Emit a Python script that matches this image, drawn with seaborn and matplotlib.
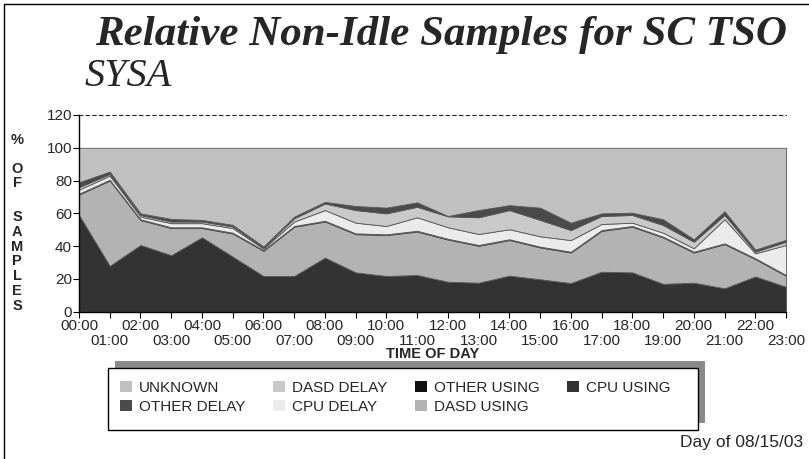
import numpy as np
import matplotlib
matplotlib.use("Agg")
import matplotlib.pyplot as plt
from matplotlib import font_manager
from matplotlib.patches import Rectangle, Patch
from matplotlib.lines import Line2D
import seaborn as sns

# hours of the day
hours = list(range(24))
hour_labels = [f"{h:02d}:00" for h in hours]

# cumulative levels (percent of samples)
cpu_using = [59, 28, 40.7, 34.5, 45.4, 33.6, 21.8, 21.8, 33, 24, 21.8, 22.4,
             18.3, 17.7, 22, 19.8, 17.5, 24.4, 24, 17, 17.7, 14.3, 21.5, 15.2]
dasd_top = [72, 80.5, 56.4, 51.5, 51.5, 48.2, 37.6, 52.3, 55.5, 47.8, 47.2, 49.4,
            44.5, 40.7, 44.2, 39.7, 36.6, 49.8, 52.3, 45.8, 36.6, 41.7, 32.6, 22.4]
cpu_delay_top = [74.5, 83, 58, 54, 54, 51, 38.5, 55, 62, 54.3, 52.3, 57.6,
                 51.5, 47.4, 50.3, 46, 43.7, 53.5, 54.3, 48.2, 38.7, 56.4, 35.6, 40.7]
dasd_delay_top = [76, 84, 59, 55, 55, 52, 39, 57, 66, 62, 60, 64,
                  58.2, 57.6, 62, 56, 49.8, 58.4, 59, 52.9, 42.7, 59, 36.6, 42.7]
total_top = [79, 85.5, 60, 56.6, 56, 53, 39.8, 58, 67, 64.5, 63.5, 66.7,
             58.4, 62, 65, 63.5, 54.3, 60, 60.4, 56.4, 44.2, 61.3, 37.9, 43.9]
other_using = [0.5] * 24

# layer thicknesses for the stack
cpu = np.array(cpu_using)
dasd = np.array(dasd_top) - cpu - np.array(other_using)
oth_use = np.array(other_using)
cpu_del = np.array(cpu_delay_top) - np.array(dasd_top)
dasd_del = np.array(dasd_delay_top) - np.array(cpu_delay_top)
oth_del = np.array(total_top) - np.array(dasd_delay_top)
unknown = 100 - np.array(total_top)

series = ["CPU USING", "DASD USING", "OTHER USING", "CPU DELAY",
          "DASD DELAY", "OTHER DELAY", "UNKNOWN"]
colors = {"CPU USING": "#333333", "DASD USING": "#b3b3b3", "OTHER USING": "#111111",
          "CPU DELAY": "#ebebeb", "DASD DELAY": "#c9c9c9", "OTHER DELAY": "#4a4a4a",
          "UNKNOWN": "#c0c0c0"}

sns.set_style("white")
names = {f.name for f in font_manager.fontManager.ttflist}
sans = "Liberation Sans Narrow" if "Liberation Sans Narrow" in names else "Liberation Sans"
plt.rcParams["font.family"] = [sans, "DejaVu Sans"]

W, H = 809, 459
fig = plt.figure(figsize=(W / 100, H / 100), dpi=100)
fig.patch.set_facecolor("white")


def fx(px):
    return px / W


def fy(py):
    return 1 - py / H


ax = fig.add_axes([fx(79), fy(311.7), fx(786) - fx(79), fy(115) - fy(311.7)])
ax.stackplot(hours, cpu, dasd, oth_use, cpu_del, dasd_del, oth_del, unknown,
             colors=[colors[s] for s in series], edgecolor="#555555", linewidth=0.6)

ax.set_xlim(0, 23)
ax.set_ylim(0, 120)
ax.set_yticks([0, 20, 40, 60, 80, 100, 120])
# even hours on the first row, odd hours on a second row
ax.set_xticks(hours[::2])
ax.set_xticklabels(hour_labels[::2])
ax.set_xticks(hours[1::2], minor=True)
ax.set_xticklabels(hour_labels[1::2], minor=True)
ax.tick_params(axis="both", which="both", direction="out", length=4, width=0.8,
               color="black", labelsize=11, pad=1, bottom=True, left=True)
ax.tick_params(axis="x", which="minor", pad=12)
ax.spines["right"].set_visible(False)
ax.spines["top"].set_linestyle((0, (3, 3)))
ax.spines["top"].set_linewidth(0.8)
for s in ["left", "bottom"]:
    ax.spines[s].set_color("black")
    ax.spines[s].set_linewidth(1.0)
ax.set_facecolor("white")

fig.text(fx(432.5), fy(354), "TIME OF DAY", ha="center", va="center",
         fontsize=10.5, fontweight="bold")

# vertical stacked y label
ylab = [("%", 140), ("O", 169), ("F", 183), ("S", 217), ("A", 231.8), ("M", 246.6),
        ("P", 261.4), ("L", 276.2), ("E", 291), ("S", 305.8)]
for ch, py in ylab:
    fig.text(fx(17), fy(py), ch, ha="center", va="center", fontsize=10.5,
             fontweight="bold", family="Liberation Sans")

# titles
fig.text(fx(95), fy(45), "Relative Non-Idle Samples for SC TSO", ha="left",
         va="baseline", fontsize=31, fontweight="bold", style="italic",
         family="Liberation Serif")
fig.text(fx(85), fy(86), "SYSA", ha="left", va="baseline", fontsize=29,
         style="italic", family="Liberation Serif")
fig.text(fx(803), fy(447), "Day of 08/15/03", ha="right", va="baseline", fontsize=12.5)

# page border
fig.add_artist(Line2D([fx(4), fx(4)], [fy(4), 0], color="black", lw=1))
fig.add_artist(Line2D([fx(4), 1], [fy(4), fy(4)], color="black", lw=1))

# legend box with shadow
bx0, bx1, by0, by1 = 108, 698, 368, 430
fig.add_artist(Rectangle((fx(bx0 + 7), fy(by1 - 7)), fx(bx1) - fx(bx0), fy(by0) - fy(by1),
                         facecolor="#8a8a8a", edgecolor="none"))
fig.add_artist(Rectangle((fx(bx0), fy(by1)), fx(bx1) - fx(bx0), fy(by0) - fy(by1),
                         facecolor="white", edgecolor="black", lw=1))

order = ["UNKNOWN", "OTHER DELAY", "DASD DELAY", "CPU DELAY",
         "OTHER USING", "DASD USING", "CPU USING"]
handles = [Patch(facecolor=colors[s], edgecolor="none", label=s) for s in order]
fig.legend(handles=handles, loc="upper left", bbox_to_anchor=(fx(108), fy(by0 + 1)),
           ncol=4, frameon=False, fontsize=11, handlelength=0.75, handleheight=0.75,
           handletextpad=0.5, columnspacing=1.8, labelspacing=0.3, borderpad=0.3)

fig.savefig("out.png", dpi=100, facecolor="white")
